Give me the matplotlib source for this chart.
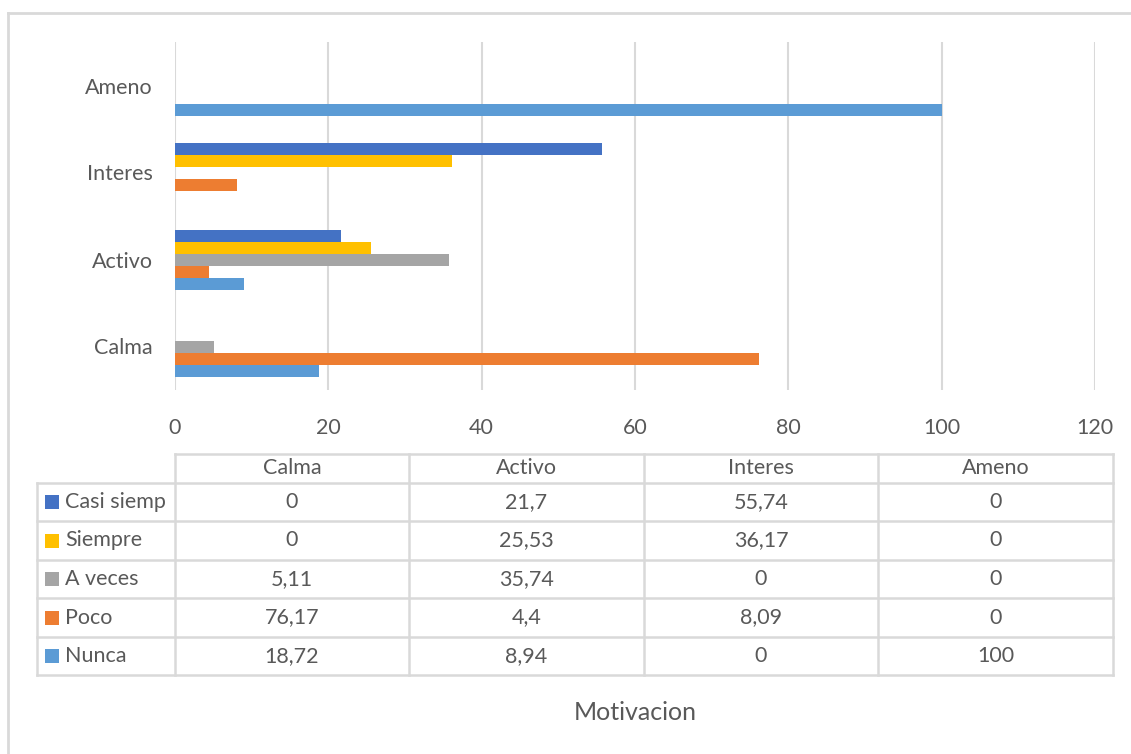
import matplotlib
matplotlib.use('Agg')
import numpy as np
import matplotlib.pyplot as plt
from matplotlib.lines import Line2D
from matplotlib.patches import Rectangle

plt.rcParams['font.family'] = ['Lato', 'DejaVu Sans']

categories = ['Calma', 'Activo', 'Interes', 'Ameno']
# series listed bottom-up as in the bar groups; the table lists them top-down
series = ['Nunca', 'Poco', 'A veces', 'Siempre', 'Casi siemp']
nunca = [18.72, 8.94, 0, 100]
poco = [76.17, 4.4, 8.09, 0]
a_veces = [5.11, 35.74, 0, 0]
siempre = [0, 25.53, 36.17, 0]
casi_siemp = [0, 21.7, 55.74, 0]
values = [nunca, poco, a_veces, siempre, casi_siemp]
colors = ['#5B9BD5', '#ED7D31', '#A5A5A5', '#FFC000', '#4472C4']
xticks = [0, 20, 40, 60, 80, 100, 120]
axis_title = 'Motivacion'

W, H = 1131, 754
TXT = '#595959'
GRID = '#D9D9D9'
FS = 15.5

fig = plt.figure(figsize=(W / 100, H / 100), dpi=100)


def fx(x):
    return x / W


def fy(y):
    return 1 - y / H


# plot area
ax = fig.add_axes([fx(175), fy(390), fx(1095) - fx(175), fy(42) - fy(390)])
n = len(series)
h = 12 / 87.0
ypos = np.arange(len(categories))
for i, (name, vals) in enumerate(zip(series, values)):
    ax.barh(ypos + (i - (n - 1) / 2) * h, vals, height=h, color=colors[i],
            linewidth=0, zorder=3)

ax.set_xlim(0, 120)
ax.set_ylim(-0.5, len(categories) - 0.5)
ax.set_xticks(xticks)
ax.set_xticklabels([str(t) for t in xticks], fontsize=FS, color=TXT)
ax.set_yticks(ypos)
ax.set_yticklabels(categories, fontsize=FS, color=TXT)
ax.tick_params(length=0)
ax.tick_params(axis='x', pad=20)
ax.tick_params(axis='y', pad=16)
ax.grid(axis='x', color=GRID, linewidth=1.5, zorder=0)
for s in ax.spines.values():
    s.set_visible(False)

# chart border (top and left edges)
fig.add_artist(Line2D([fx(8), 1], [fy(13), fy(13)], color=GRID, linewidth=2))
fig.add_artist(Line2D([fx(8), fx(8)], [fy(13), 0], color=GRID, linewidth=2))

# data table
col_x = [175, 409, 644, 878, 1113]
row_y = [454, 483, 521, 560, 598, 637, 675]
lab_x0 = 37


def hline(y, x0, x1):
    fig.add_artist(Line2D([fx(x0), fx(x1)], [fy(y), fy(y)], color=GRID, linewidth=1.8))


def vline(x, y0, y1):
    fig.add_artist(Line2D([fx(x), fx(x)], [fy(y0), fy(y1)], color=GRID, linewidth=1.8))


hline(row_y[0], col_x[0], col_x[-1])
for y in row_y[1:]:
    hline(y, lab_x0, col_x[-1])
vline(lab_x0, row_y[1], row_y[-1])
for x in col_x:
    vline(x, row_y[0], row_y[-1])

for j, cat in enumerate(categories):
    cx = (col_x[j] + col_x[j + 1]) / 2
    fig.text(fx(cx), fy((row_y[0] + row_y[1]) / 2), cat, ha='center', va='center',
             fontsize=FS, color=TXT)

for r, i in enumerate(range(n - 1, -1, -1)):
    cy = (row_y[r + 1] + row_y[r + 2]) / 2
    fig.add_artist(Rectangle((fx(45), fy(cy + 7)), fx(14), 14 / H,
                             facecolor=colors[i], edgecolor='none'))
    fig.text(fx(65), fy(cy), series[i], ha='left', va='center', fontsize=FS, color=TXT)
    for j in range(len(categories)):
        cx = (col_x[j] + col_x[j + 1]) / 2
        label = '{:g}'.format(values[i][j]).replace('.', ',')
        fig.text(fx(cx), fy(cy), label, ha='center', va='center', fontsize=FS, color=TXT)

fig.text(fx(635), fy(713), axis_title, ha='center', va='center', fontsize=FS + 2.5, color=TXT)

fig.savefig('out.png', dpi=100, facecolor='white')
